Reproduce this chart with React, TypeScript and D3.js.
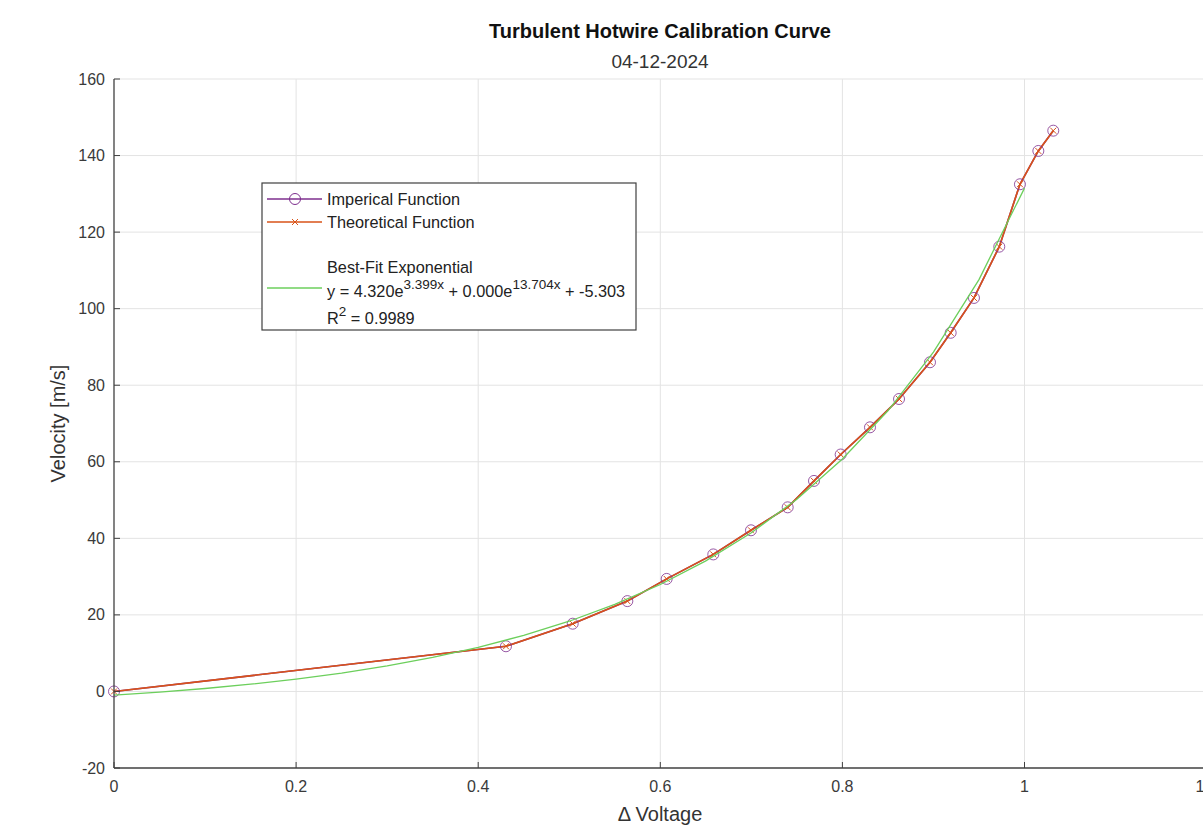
import React from "react";
import * as d3 from "d3";

// delta voltage (x) and measured velocity (y)
const voltage = [0, 0.4305, 0.5038, 0.5638, 0.607, 0.6582, 0.6996, 0.7399, 0.7688, 0.7981, 0.8303, 0.8622, 0.8962, 0.9189, 0.9445, 0.9723, 0.995, 1.0152, 1.0316];
const imperical = [0, 11.8, 17.7, 23.6, 29.4, 35.8, 42.1, 48.1, 55.0, 61.9, 69.0, 76.4, 86.0, 93.7, 102.8, 116.2, 132.5, 141.2, 146.5];
const theoretical = [0, 11.8, 17.7, 23.6, 29.4, 35.8, 42.1, 48.1, 55.0, 61.9, 69.0, 76.4, 86.0, 93.7, 102.8, 116.2, 132.5, 141.2, 146.5];

// best-fit curve
const fitX = [0, 0.05, 0.1, 0.15, 0.2, 0.25, 0.3, 0.35, 0.4, 0.45, 0.5, 0.55, 0.6, 0.65, 0.7, 0.75, 0.8, 0.85, 0.9, 0.95, 1.0];
const fitY = [-0.98, -0.18, 0.77, 1.89, 3.22, 4.8, 6.67, 8.89, 11.52, 14.64, 18.34, 22.73, 27.93, 34.11, 41.47, 50.22, 60.71, 73.32, 88.66, 107.59, 131.5];

const xTicks = [0, 0.2, 0.4, 0.6, 0.8, 1, 1.2];
const yTicks = [-20, 0, 20, 40, 60, 80, 100, 120, 140, 160];

const W = 1203, H = 826;
const FONT = "'Liberation Sans', Arial, Helvetica, sans-serif";
const PURPLE = "#7E2F8E", RED = "#D95319", GREEN = "#6ccf5c";

export default function App() {
  const x = d3.scaleLinear().domain([0, 1.2]).range([114, 1206.6]);
  const y = d3.scaleLinear().domain([-20, 160]).range([768, 79]);
  const left = x(0), bottom = y(-20), top = y(160), right = x(1.2);

  const line = d3.line<[number, number]>().x(d => x(d[0])).y(d => y(d[1]));
  const impPts = voltage.map((v, i) => [v, imperical[i]] as [number, number]);
  const thPts = voltage.map((v, i) => [v, theoretical[i]] as [number, number]);
  const fitPts = fitX.map((v, i) => [v, fitY[i]] as [number, number]);

  const lx = 262, ly = 183;
  const LF = 16.3;

  return (
    <svg width={W} height={H} style={{ position: "absolute", left: 0, top: 0, background: "#fff" }} fontFamily={FONT}>
      <rect width={W} height={H} fill="#fff" />
      {/* grid */}
      {xTicks.filter(t => t > 0).map(t => (
        <line key={"gx" + t} x1={x(t)} x2={x(t)} y1={top} y2={bottom} stroke="#e3e3e3" strokeWidth={1} />
      ))}
      {yTicks.filter(t => t > -20).map(t => (
        <line key={"gy" + t} x1={left} x2={right} y1={y(t)} y2={y(t)} stroke="#e3e3e3" strokeWidth={1} />
      ))}

      {/* series */}
      <path d={line(impPts) || ""} fill="none" stroke={PURPLE} strokeWidth={1.6} />
      <path d={line(thPts) || ""} fill="none" stroke={RED} strokeWidth={1.6} />
      {impPts.map((p, i) => (
        <circle key={"c" + i} cx={x(p[0])} cy={y(p[1])} r={5.5} fill="none" stroke={PURPLE} strokeWidth={1} opacity={0.8} />
      ))}
      {thPts.map((p, i) => {
        const cx = x(p[0]), cy = y(p[1]), s = 3;
        return (
          <path key={"x" + i} d={`M${cx - s},${cy - s}L${cx + s},${cy + s}M${cx - s},${cy + s}L${cx + s},${cy - s}`} stroke={RED} strokeWidth={1} />
        );
      })}
      <path d={line(fitPts) || ""} fill="none" stroke={GREEN} strokeWidth={1.3} />

      {/* axes */}
      <line x1={left} x2={left} y1={top} y2={bottom} stroke="#404040" strokeWidth={1.3} />
      <line x1={left} x2={right} y1={bottom} y2={bottom} stroke="#404040" strokeWidth={1.3} />
      {yTicks.map(t => (
        <g key={"yt" + t}>
          <line x1={left} x2={left + 6} y1={y(t)} y2={y(t)} stroke="#404040" strokeWidth={1} />
          <text x={left - 9} y={y(t)} dy="0.35em" textAnchor="end" fontSize={16} fill="#3a3a3a">{t}</text>
        </g>
      ))}
      {xTicks.map(t => (
        <g key={"xt" + t}>
          <line x1={x(t)} x2={x(t)} y1={bottom} y2={bottom - 6} stroke="#404040" strokeWidth={1} />
          <text x={x(t)} y={bottom + 24} textAnchor="middle" fontSize={16} fill="#3a3a3a">{t}</text>
        </g>
      ))}

      {/* labels */}
      <text x={660} y={38} textAnchor="middle" fontSize={20} fontWeight="bold" fill="#111">Turbulent Hotwire Calibration Curve</text>
      <text x={660} y={68} textAnchor="middle" fontSize={19} fill="#333">04-12-2024</text>
      <text x={660} y={821} textAnchor="middle" fontSize={20} fill="#333">Δ Voltage</text>
      <text transform={`translate(65,${(top + bottom) / 2}) rotate(-90)`} textAnchor="middle" fontSize={20} fill="#333">Velocity [m/s]</text>

      {/* legend */}
      <rect x={lx} y={ly} width={374} height={147} fill="#fff" stroke="#404040" strokeWidth={1.2} />
      <line x1={lx + 5} x2={lx + 60} y1={ly + 16} y2={ly + 16} stroke={PURPLE} strokeWidth={1.6} />
      <circle cx={lx + 33} cy={ly + 16} r={5.5} fill="none" stroke={PURPLE} strokeWidth={1} />
      <text x={lx + 65} y={ly + 16} dy="0.35em" fontSize={LF} fill="#222">Imperical Function</text>
      <line x1={lx + 5} x2={lx + 60} y1={ly + 39} y2={ly + 39} stroke={RED} strokeWidth={1.6} />
      <path d={`M${lx + 30},${ly + 36}L${lx + 36},${ly + 42}M${lx + 30},${ly + 42}L${lx + 36},${ly + 36}`} stroke={RED} strokeWidth={1} />
      <text x={lx + 65} y={ly + 39} dy="0.35em" fontSize={LF} fill="#222">Theoretical Function</text>
      <line x1={lx + 5} x2={lx + 60} y1={ly + 105} y2={ly + 105} stroke={GREEN} strokeWidth={1.3} />
      <text x={lx + 65} y={ly + 84} dy="0.35em" fontSize={LF} fill="#222">Best-Fit Exponential</text>
      <text x={lx + 65} y={ly + 108} dy="0.35em" fontSize={LF} fill="#222">
        y = 4.320e<tspan dy="-8" fontSize={13.5}>3.399x</tspan>
        <tspan dy="8"> + 0.000e</tspan>
        <tspan dy="-8" fontSize={13.5}>13.704x</tspan>
        <tspan dy="8"> + -5.303</tspan>
      </text>
      <text x={lx + 65} y={ly + 135} dy="0.35em" fontSize={LF} fill="#222">
        R<tspan dy="-8" fontSize={13.5}>2</tspan>
        <tspan dy="8"> = 0.9989</tspan>
      </text>
    </svg>
  );
}
